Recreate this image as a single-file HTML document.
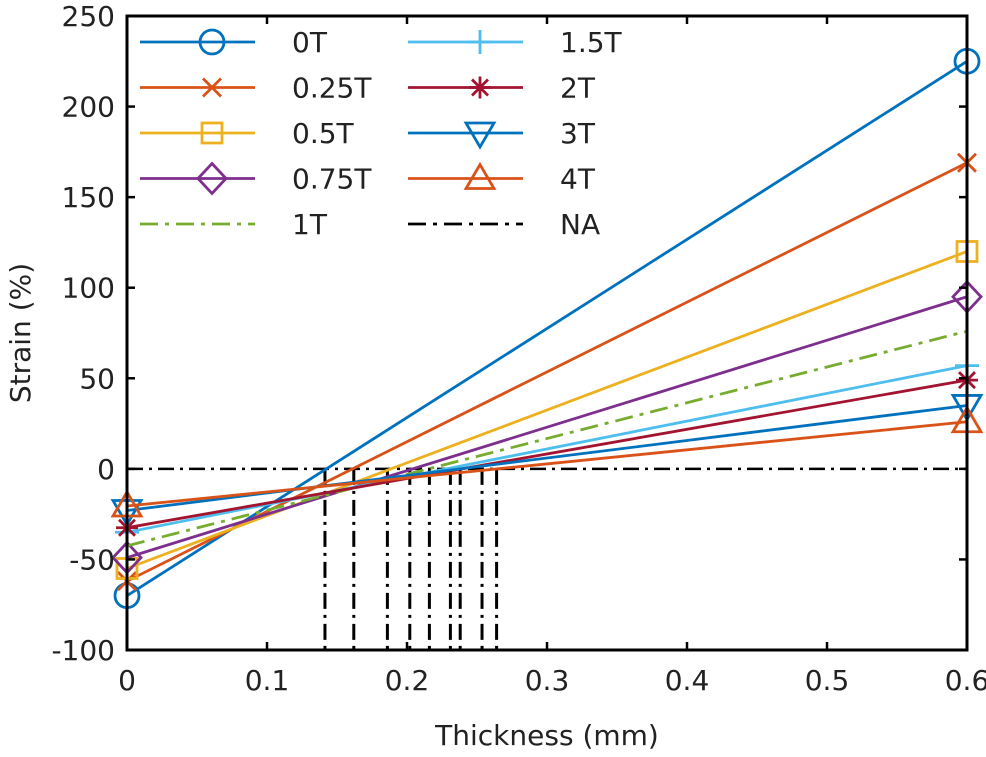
<!DOCTYPE html>
<html><head><meta charset="utf-8"><style>
body{margin:0;background:#fff}
svg text{font-family:"DejaVu Sans","Liberation Sans",sans-serif;font-size:28px;fill:#222}
</style></head><body>
<svg id="c" width="986" height="752"></svg>
<script>
const seriesNames=["0T","0.25T","0.5T","0.75T","1T","1.5T","2T","3T","4T"];
const leftValues=[-70,-62,-55,-49,-42.5,-35,-32.5,-23,-20.5];
const rightValues=[225,169,120,95,76,57,49,35,26];
const naX=[0.1414,0.162,0.186,0.202,0.216,0.231,0.238,0.2536,0.264];
const xTicks=[0,0.1,0.2,0.3,0.4,0.5,0.6];
const yTicks=[-100,-50,0,50,100,150,200,250];
const colors=["#0072BD","#D95319","#EDB120","#7E2F8E","#77AC30","#4DBEEE","#A2142F","#0072BD","#D95319"];
const markers=["o","x","s","d","","+","*","v","^"];
const L=127,R=967,T=16,B=650;
const X=v=>L+(v-0)/0.6*(R-L);
const Y=v=>B-(v+100)/350*(B-T);
const svg=document.getElementById('c');
const NS="http://www.w3.org/2000/svg";
const SW=2.8;
function mk(tag,at,parent){const e=document.createElementNS(NS,tag);for(const k in at)e.setAttribute(k,at[k]);(parent||svg).appendChild(e);return e;}
function marker(type,x,y,col,g){
  const s={stroke:col,"stroke-width":SW,fill:"none"};
  if(type==="o")mk("circle",Object.assign({cx:x,cy:y,r:12},s),g);
  else if(type==="x"){mk("path",Object.assign({d:`M${x-9} ${y-9}L${x+9} ${y+9}M${x-9} ${y+9}L${x+9} ${y-9}`},s),g);}
  else if(type==="s")mk("rect",Object.assign({x:x-10,y:y-10,width:20,height:20},s),g);
  else if(type==="d")mk("path",Object.assign({d:`M${x} ${y-15}L${x+14} ${y}L${x} ${y+15}L${x-14} ${y}Z`},s),g);
  else if(type==="+")mk("path",Object.assign({d:`M${x-12} ${y}L${x+12} ${y}M${x} ${y-12}L${x} ${y+12}`},s),g);
  else if(type==="*")mk("path",Object.assign({d:`M${x-11} ${y}L${x+11} ${y}M${x} ${y-11}L${x} ${y+11}M${x-8} ${y-8}L${x+8} ${y+8}M${x-8} ${y+8}L${x+8} ${y-8}`},s),g);
  else if(type==="v")mk("path",Object.assign({d:`M${x-14} ${y-10}L${x+14} ${y-10}L${x} ${y+14}Z`},s),g);
  else if(type==="^")mk("path",Object.assign({d:`M${x-14} ${y+10}L${x+14} ${y+10}L${x} ${y-14}Z`},s),g);
}
const na=mk("g",{});


mk("line",{x1:L,x2:R,y1:Y(0),y2:Y(0),stroke:"#000","stroke-width":2.5,"stroke-dasharray":"16 6 3 6"},na);
naX.forEach(v=>{mk("line",{x1:X(v),x2:X(v),y1:Y(0),y2:Y(-100),stroke:"#000","stroke-width":3,"stroke-dasharray":"16 6 3 6"},na);});
seriesNames.forEach((n,i)=>{
  const g=mk("g",{});
  
  
  const a={x1:X(0),y1:Y(leftValues[i]),x2:X(0.6),y2:Y(rightValues[i]),stroke:colors[i],"stroke-width":SW};
  if(n==="1T")a["stroke-dasharray"]="18 7 4 7";
  mk("line",a,g);
  if(markers[i]){marker(markers[i],X(0),Y(leftValues[i]),colors[i],g);marker(markers[i],X(0.6),Y(rightValues[i]),colors[i],g);}
});
const ax=mk("rect",{x:L,y:T,width:R-L,height:B-T,fill:"none",stroke:"#000","stroke-width":3});


xTicks.forEach(v=>{
  mk("line",{x1:X(v),x2:X(v),y1:B,y2:B-8,stroke:"#000","stroke-width":2.5});
  mk("line",{x1:X(v),x2:X(v),y1:T,y2:T+8,stroke:"#000","stroke-width":2.5});
  const t=mk("text",{x:X(v),y:B+40,"text-anchor":"middle"});t.textContent=String(v);
  
  
});
yTicks.forEach(v=>{
  mk("line",{x1:L,x2:L+8,y1:Y(v),y2:Y(v),stroke:"#000","stroke-width":2.5});
  mk("line",{x1:R,x2:R-8,y1:Y(v),y2:Y(v),stroke:"#000","stroke-width":2.5});
  const t=mk("text",{x:L-12,y:Y(v)+10,"text-anchor":"end"});t.textContent=String(v);
  
  
});
const xl=mk("text",{x:X(0.3),y:745,"text-anchor":"middle"});xl.textContent="Thickness (mm)";


const yl=mk("text",{x:0,y:0,"text-anchor":"middle",transform:`translate(30,${Y(75)}) rotate(-90)`});yl.textContent="Strain (%)";


const legNames=seriesNames.concat(["NA"]);
legNames.forEach((n,i)=>{
  const col=i<5?0:1,row=i%5;
  const x0=col?408:140,y0=42+row*45.5;
  const g=mk("g",{});
  
  
  const c=i<9?colors[i]:"#000";
  const a={x1:x0,x2:x0+115,y1:y0,y2:y0,stroke:c,"stroke-width":SW};
  if(n==="1T"||n==="NA")a["stroke-dasharray"]="18 7 4 7";
  mk("line",a,g);
  if(i<9&&markers[i])marker(markers[i],x0+72,y0,c,g);
  const t=mk("text",{x:x0+152,y:y0+10},g);t.textContent=n;
});
</script>
</body></html>
